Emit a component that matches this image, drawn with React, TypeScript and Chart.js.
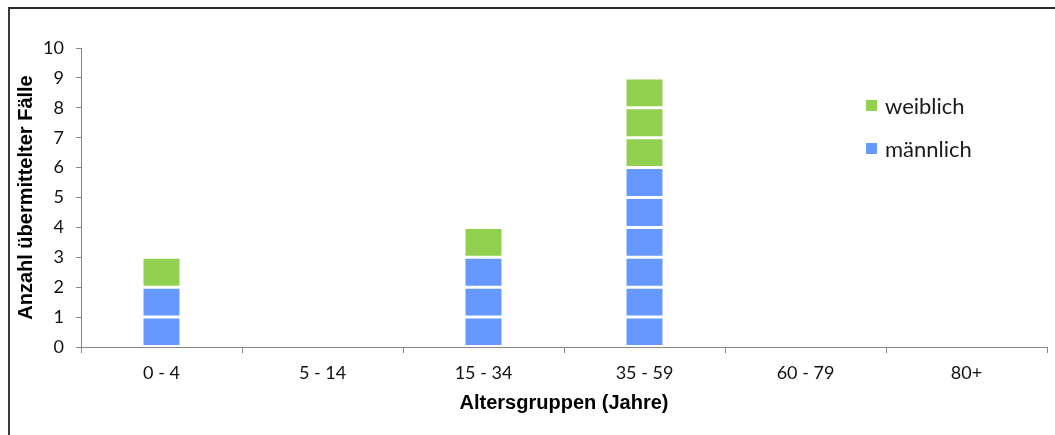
import React, { useEffect, useRef } from "react";
import { Chart, registerables } from "chart.js";

Chart.register(...registerables);

const categories = ["0 - 4", "5 - 14", "15 - 34", "35 - 59", "60 - 79", "80+"];
const maleCounts = [2, 0, 3, 6, 0, 0];
const femaleCounts = [1, 0, 1, 3, 0, 0];
const yTicks = [0, 1, 2, 3, 4, 5, 6, 7, 8, 9, 10];

const MALE_COLOR = "#6699FF";
const FEMALE_COLOR = "#92D050";
const AXIS_COLOR = "#868686";

function unitDatasets(label: string, counts: number[], color: string) {
  const max = Math.max(...counts);
  const out: any[] = [];
  for (let k = 0; k < max; k++) {
    out.push({
      label,
      data: counts.map((c) => (c > k ? 1 : null)),
      backgroundColor: color,
      borderColor: "#FFFFFF",
      borderWidth: 1.5,
      borderSkipped: false,
      stack: "cases",
      categoryPercentage: 1,
      barPercentage: 0.242,
    });
  }
  return out;
}

const legendItems = [
  { label: "weiblich", color: FEMALE_COLOR },
  { label: "männlich", color: MALE_COLOR },
];

const legendPlugin = {
  id: "boxLegend",
  afterDraw(chart: any) {
    const ctx = chart.ctx;
    ctx.save();
    ctx.font = "22px Lato";
    ctx.textBaseline = "alphabetic";
    ctx.textAlign = "left";
    legendItems.forEach((it, i) => {
      const y = 100 + i * 43;
      ctx.fillStyle = it.color;
      ctx.fillRect(866, y, 11, 11);
      ctx.fillStyle = "#1a1a1a";
      ctx.fillText(it.label, 885, y + 14);
    });
    ctx.restore();
  },
};

export default function App() {
  const ref = useRef<HTMLCanvasElement | null>(null);

  useEffect(() => {
    if (!ref.current) return;
    const chart = new Chart(ref.current, {
      type: "bar",
      data: {
        labels: categories,
        datasets: [
          ...unitDatasets("männlich", maleCounts, MALE_COLOR),
          ...unitDatasets("weiblich", femaleCounts, FEMALE_COLOR),
        ],
      },
      options: {
        animation: false,
        responsive: false,
        devicePixelRatio: 1,
        layout: { padding: { left: 0, top: 48, right: 8, bottom: 0 } },
        plugins: {
          legend: { display: false },
          tooltip: { enabled: false },
          title: { display: false },
        },
        scales: {
          x: {
            stacked: true,
            afterFit: (s: any) => {
              s.height = 88;
            },
            grid: {
              drawOnChartArea: false,
              drawTicks: true,
              tickLength: 6,
              color: AXIS_COLOR,
              offset: true,
            },
            border: { display: true, color: AXIS_COLOR, width: 1 },
            ticks: {
              color: "#111",
              font: { family: "Lato", size: 18 },
              padding: 9,
              maxRotation: 0,
            },
            title: {
              display: true,
              text: "Altersgruppen (Jahre)",
              color: "#000",
              font: { family: "Liberation Sans", size: 20, weight: "bold" },
              padding: { top: 0, bottom: 20 },
            },
          },
          y: {
            stacked: true,
            min: 0,
            max: 10,
            afterFit: (s: any) => {
              s.width = 81;
            },
            afterBuildTicks: (s: any) => {
              s.ticks = yTicks.map((v) => ({ value: v }));
            },
            grid: {
              drawOnChartArea: false,
              drawTicks: true,
              tickLength: 5,
              color: AXIS_COLOR,
            },
            border: { display: true, color: AXIS_COLOR, width: 1 },
            ticks: {
              color: "#111",
              font: { family: "Lato", size: 18 },
              padding: 12,
            },
            title: {
              display: true,
              text: "Anzahl übermittelter Fälle",
              color: "#000",
              font: { family: "Liberation Sans", size: 20, weight: "bold" },
              padding: { top: 14, bottom: 0 },
            },
          },
        },
      },
      plugins: [legendPlugin],
    });
    return () => chart.destroy();
  }, []);

  return (
    <>
      <canvas
        ref={ref}
        width={1055}
        height={435}
        style={{ position: "fixed", left: 0, top: 0, width: 1055, height: 435, background: "#fff" }}
      />
      <div
        style={{
          position: "fixed",
          left: 8,
          top: 7,
          right: -20,
          bottom: -20,
          borderLeft: "2px solid #3a3a3a",
          borderTop: "2px solid #2a2a2a",
          pointerEvents: "none",
        }}
      />
    </>
  );
}
